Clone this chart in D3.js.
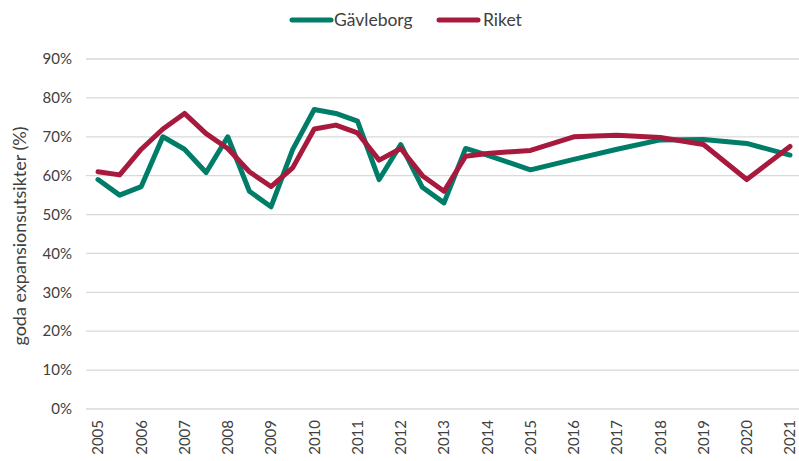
<!DOCTYPE html>
<html><head><meta charset="utf-8">
<script src="https://cdn.jsdelivr.net/npm/d3@7"></script>
<style>body{margin:0;background:#fff}svg{display:block}text{font-family:Lato,"Open Sans",sans-serif;fill:#404040}</style>
</head><body><svg id="c" width="799" height="461"></svg>
<script>
const times = [2005,2005.5,2006,2006.5,2007,2007.5,2008,2008.5,2009,2009.5,2010,2010.5,2011,2011.5,2012,2012.5,2013,2013.5,2014,2015,2016,2017,2018,2019,2020,2021];
const gavleborg = [59,55,57.2,70,66.8,60.8,70,56,52,66.7,77,76,74,59,68,57,53,67,65.3,61.5,64.2,66.8,69.2,69.3,68.3,65.3];
const riket = [61,60.2,66.8,72,76,70.8,67,61,57.2,62,72,73,71,64,67,60,56,65,65.7,66.5,70,70.4,69.8,68,59,67.5];
const yearTicks = d3.range(2005,2022);
const yTicks = [0,10,20,30,40,50,60,70,80,90];
const seriesNames = ["Gävleborg","Riket"];
const colors = ["#007d69","#a8193e"];

const svg = d3.select("#c");
const x = d3.scaleLinear().domain([2005,2021]).range([98,790]);
const y = d3.scaleLinear().domain([0,90]).range([409,59]);

svg.append("g").selectAll("line").data(yTicks).join("line")
  .attr("x1",86).attr("x2",799).attr("y1",d=>y(d)).attr("y2",d=>y(d))
  .attr("stroke","#d9d9d9").attr("stroke-width",1.3);

svg.append("g").selectAll("text").data(yTicks).join("text")
  .attr("x",72).attr("y",d=>y(d)).attr("dy","0.35em").attr("text-anchor","end")
  .attr("font-size",15).text(d=>d+"%");

svg.append("g").selectAll("text").data(yearTicks).join("text")
  .attr("transform",d=>`translate(${x(d)},420) rotate(-90)`)
  .attr("dy","0.35em").attr("text-anchor","end").attr("font-size",15).text(d=>d);

svg.append("text").attr("transform","translate(20,236) rotate(-90)")
  .attr("text-anchor","middle").attr("dy","0.35em").attr("font-size",18)
  .text("goda expansionsutsikter (%)");

const line = d3.line().x((d,i)=>x(times[i])).y(d=>y(d));
[gavleborg,riket].forEach((s,k)=>{
  svg.append("path").datum(s).attr("d",line).attr("fill","none")
    .attr("stroke",colors[k]).attr("stroke-width",5).attr("stroke-linejoin","round").attr("stroke-linecap","round");
});

const lg = [{x:290,tx:334},{x:437,tx:483}];
seriesNames.forEach((n,k)=>{
  svg.append("line").attr("x1",lg[k].x+2).attr("x2",lg[k].x+41).attr("y1",20).attr("y2",20)
    .attr("stroke",colors[k]).attr("stroke-width",5).attr("stroke-linecap","round");
  svg.append("text").attr("x",lg[k].tx).attr("y",20).attr("dy","0.35em").attr("font-size",17.5).text(n);
});
</script></body></html>
